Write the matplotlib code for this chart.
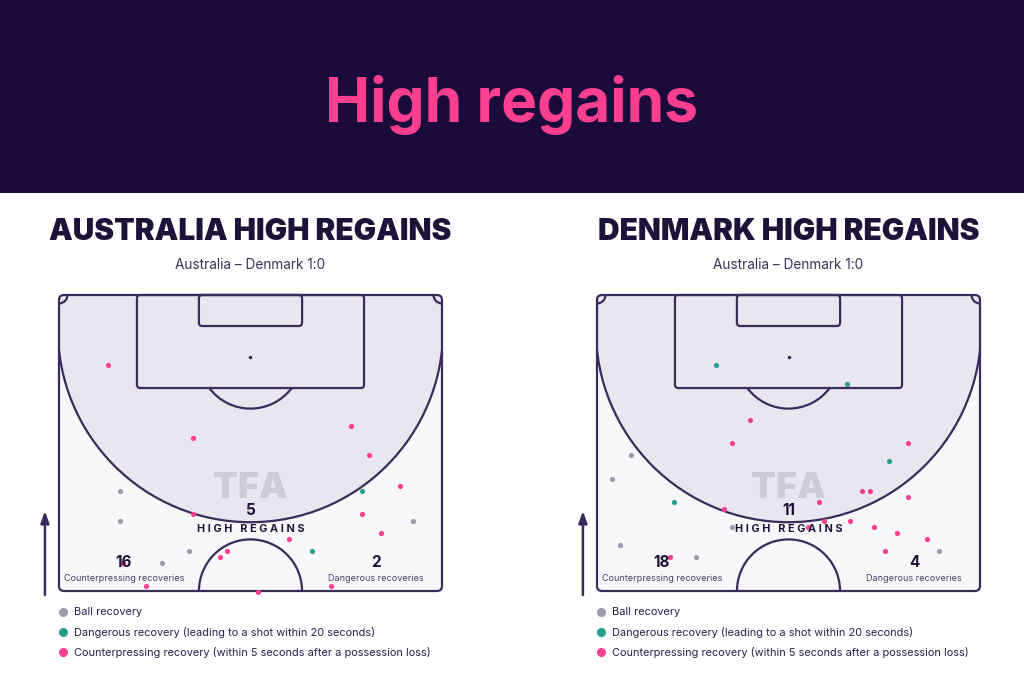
import matplotlib
matplotlib.use("Agg")
import matplotlib.pyplot as plt
from matplotlib.patches import Rectangle, Circle, Arc, FancyBboxPatch
import numpy as np

plt.rcParams['font.family'] = ['Inter', 'DejaVu Sans']

# ---------------- data ----------------
main_title = "High regains"
match_label = "Australia – Denmark 1:0"
team_titles = ["AUSTRALIA HIGH REGAINS", "DENMARK HIGH REGAINS"]
high_regains = [5, 11]
counterpressing = [16, 18]
dangerous = [2, 4]
legend_labels = ["Ball recovery",
                 "Dangerous recovery (leading to a shot within 20 seconds)",
                 "Counterpressing recovery (within 5 seconds after a possession loss)"]

# coordinates in metres: x across pitch width (0-68), y from halfway line (0) to goal line (52.5)
aus_ball_x = [10.8, 10.8, 62.8, 23.1, 18.2]
aus_ball_y = [17.8, 12.5, 12.5, 7.1, 4.9]
aus_dang_x = [53.8, 45.0]
aus_dang_y = [17.8, 7.1]
aus_cp_x = [8.65, 23.75, 51.8, 55.1, 60.6, 23.75, 53.8, 57.2, 40.9, 29.9, 28.6, 11.4, 15.5, 35.4, 48.3]
aus_cp_y = [40.0, 27.2, 29.3, 24.1, 18.7, 13.6, 13.6, 10.3, 9.2, 7.1, 6.1, 4.9, 0.8, -0.2, 0.8]

den_ball_x = [6.0, 2.6, 4.0, 17.6, 60.7, 23.9]
den_ball_y = [24.1, 19.9, 8.2, 6.1, 7.1, 11.4]
den_dang_x = [21.1, 44.4, 51.9, 13.6]
den_dang_y = [40.0, 36.8, 23.0, 15.7]
den_cp_x = [27.2, 23.9, 55.3, 47.1, 48.5, 55.3, 39.5, 22.5, 40.3, 45.0, 49.1, 37.5, 53.2, 58.6, 51.2, 12.9]
den_cp_y = [30.4, 26.2, 26.2, 17.8, 17.8, 16.7, 15.7, 14.5, 12.5, 12.5, 11.4, 11.4, 10.3, 9.2, 7.1, 6.1]

# ---------------- style ----------------
NAVY = "#1b0a3c"
PINK = "#fb3f8f"
LINE = "#3a2b5c"
GRAY = "#9c9aab"
TEAL = "#2a9d8f"
SHADE = "#e8e6ee"
LIGHT = "#f8f8fa"
TEXT = "#1e1238"

W, H = 1024, 683
fig = plt.figure(figsize=(W / 100, H / 100), dpi=100)
fig.patch.set_facecolor("white")

# banner
fig.patches.append(Rectangle((0, 1 - 193 / H), 1, 193 / H, transform=fig.transFigure,
                             facecolor=NAVY, edgecolor="none", zorder=0))
fig.text(0.5, 1 - 122 / H, main_title, color=PINK, fontsize=43.5, fontweight="bold",
         ha="center", va="baseline")

PW, HL = 68.0, 52.5


def draw_panel(x0, title, ball, dang, cp, n_high, n_cp, n_dang):
    # x0 = left pixel of pitch
    ax = fig.add_axes([x0 / W, 1 - 591 / H, 383 / W, 296 / H])
    ax.set_xlim(0, PW)
    ax.set_ylim(0, HL)
    ax.axis("off")
    lw = 1.6
    # background
    bg = FancyBboxPatch((0, 0), PW, HL, boxstyle="round,pad=0,rounding_size=0.9",
                        facecolor=LIGHT, edgecolor="none", zorder=0, clip_on=False)
    ax.add_patch(bg)
    clip = Rectangle((0, 0), PW, HL, transform=ax.transData)
    cy, r = 46.4, 34.2
    circ = Circle((PW / 2, cy), r, facecolor=SHADE, edgecolor="none", zorder=1)
    circ.set_clip_path(clip)
    ax.add_patch(circ)
    ax.add_patch(Rectangle((0, cy), PW, HL - cy, facecolor=SHADE, edgecolor="none", zorder=1))
    arc = Arc((PW / 2, cy), 2 * r, 2 * r, theta1=180, theta2=360, color=LINE, lw=lw, zorder=2)
    arc.set_clip_path(clip)
    ax.add_patch(arc)
    # outline
    ax.add_patch(FancyBboxPatch((0, 0), PW, HL, boxstyle="round,pad=0,rounding_size=0.9",
                                facecolor="none", edgecolor=LINE, lw=lw, zorder=3, clip_on=False))
    # penalty area
    ax.add_patch(FancyBboxPatch((PW / 2 - 20.16, HL - 16.5), 40.32, 16.5,
                                boxstyle="round,pad=0,rounding_size=0.6",
                                facecolor="none", edgecolor=LINE, lw=lw, zorder=3, clip_on=False))
    ax.add_patch(FancyBboxPatch((PW / 2 - 9.16, HL - 5.5), 18.32, 5.5,
                                boxstyle="round,pad=0,rounding_size=0.6",
                                facecolor="none", edgecolor=LINE, lw=lw, zorder=3, clip_on=False))
    # penalty arc (D)
    spot_y = HL - 11
    ang = np.degrees(np.arcsin(5.5 / 9.15))
    ax.add_patch(Arc((PW / 2, spot_y), 18.3, 18.3, theta1=180 + ang, theta2=360 - ang,
                     color=LINE, lw=lw, zorder=3))
    ax.plot([PW / 2], [spot_y], marker="o", ms=1.5, color=LINE, zorder=3)
    # centre circle
    ax.add_patch(Arc((PW / 2, 0), 18.3, 18.3, theta1=0, theta2=180, color=LINE, lw=lw, zorder=3))
    # corner arcs
    ax.add_patch(Arc((0, HL), 3.0, 3.0, theta1=270, theta2=360, color=LINE, lw=lw, zorder=3))
    ax.add_patch(Arc((PW, HL), 3.0, 3.0, theta1=180, theta2=270, color=LINE, lw=lw, zorder=3))
    # watermark
    ax.text(PW / 2, 18.2, "TFA", fontsize=26, fontweight="black", color="#cbc9d3",
            ha="center", va="center", zorder=2, alpha=0.9)
    # labels
    ax.text(PW / 2, 14.2, str(n_high), fontsize=11, fontweight="bold", color=TEXT,
            ha="center", va="center", zorder=5)
    ax.text(PW / 2, 11.0, "H I G H   R E G A I N S", fontsize=7.8, fontweight="bold", color=TEXT,
            ha="center", va="center", zorder=5)
    ax.text(11.5, 5.0, str(n_cp), fontsize=11, fontweight="bold", color=TEXT,
            ha="center", va="center", zorder=5)
    ax.text(11.5, 2.3, "Counterpressing recoveries", fontsize=6.5, color="#4a3d66",
            ha="center", va="center", zorder=5)
    ax.text(56.3, 5.0, str(n_dang), fontsize=11, fontweight="bold", color=TEXT,
            ha="center", va="center", zorder=5)
    ax.text(56.3, 2.3, "Dangerous recoveries", fontsize=6.5, color="#4a3d66",
            ha="center", va="center", zorder=5)
    # points
    ms = 14
    ax.scatter(ball[0], ball[1], s=ms, color=GRAY, zorder=4, clip_on=False, linewidths=0)
    ax.scatter(dang[0], dang[1], s=ms, color=TEAL, zorder=4, clip_on=False, linewidths=0)
    ax.scatter(cp[0], cp[1], s=ms, color=PINK, zorder=4, clip_on=False, linewidths=0)
    # direction arrow
    ax.annotate("", xy=(-2.5, 14.7), xytext=(-2.5, -1.2), xycoords="data",
                arrowprops=dict(arrowstyle="-|>,head_length=0.7,head_width=0.25", color=LINE, lw=1.8),
                annotation_clip=False)
    # titles
    cx = (x0 + 191.5) / W
    fig.text(cx, 1 - 240 / H, title, fontsize=21.5, fontweight="black", color=TEXT,
             ha="center", va="baseline")
    fig.text(cx, 1 - 265 / H, match_label, fontsize=9.8, color="#3d3158",
             ha="center", va="center")
    # legend
    cols = [GRAY, TEAL, PINK]
    for i, (lab, c) in enumerate(zip(legend_labels, cols)):
        yy = 1 - (612 + 20 * i) / H
        fig.text((x0 + 15) / W, yy, lab, fontsize=7.9, color="#2b1f4a", ha="left", va="center")
        fig.add_artist(plt.Line2D([(x0 + 4) / W], [yy], marker="o", ms=5.5, color=c,
                                  transform=fig.transFigure, linestyle="none"))


draw_panel(59, team_titles[0], (aus_ball_x, aus_ball_y), (aus_dang_x, aus_dang_y),
           (aus_cp_x, aus_cp_y), high_regains[0], counterpressing[0], dangerous[0])
draw_panel(597, team_titles[1], (den_ball_x, den_ball_y), (den_dang_x, den_dang_y),
           (den_cp_x, den_cp_y), high_regains[1], counterpressing[1], dangerous[1])

fig.savefig("out.png", dpi=100, facecolor="white")
